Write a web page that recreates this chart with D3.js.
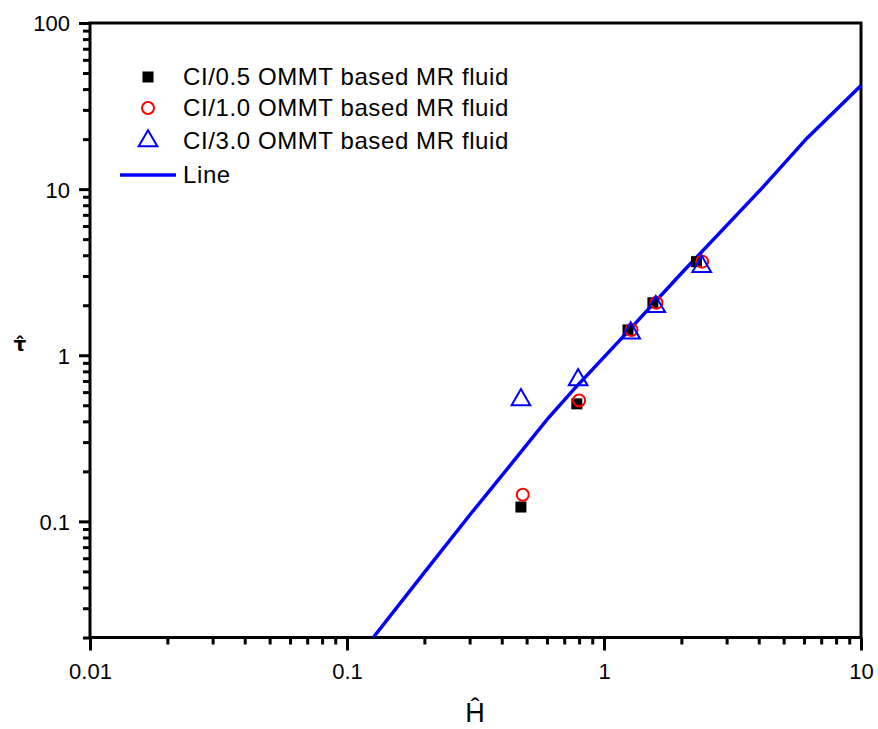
<!DOCTYPE html>
<html>
<head>
<meta charset="utf-8">
<script src="https://cdn.jsdelivr.net/npm/d3@7"></script>
<style>
  body { margin: 0; background: #fff; }
  svg { display: block; font-family: "Liberation Sans", Arial, sans-serif; }
</style>
</head>
<body>
<div id="chart"></div>
<script>
// Field values (H-hat on x, tau-hat on y)
const h05 = [0.475, 0.784, 1.24, 1.55, 2.29];
const tau05 = [0.122, 0.51, 1.42, 2.07, 3.66];

const h10 = [0.483, 0.80, 1.28, 1.60, 2.41];
const tau10 = [0.1445, 0.534, 1.42, 2.07, 3.66];

const h30 = [0.475, 0.793, 1.27, 1.59, 2.40];
const tau30 = [0.539, 0.711, 1.36, 1.96, 3.42];

// The fitted "Line", sampled along the drawn curve
const lineH = [0.1265, 0.204, 0.301, 0.443, 0.607, 0.76, 1.19, 1.976, 4.17, 6.15, 10];
const lineTau = [0.02, 0.0512, 0.1096, 0.229, 0.419, 0.619, 1.30, 3.05, 10.35, 20.2, 42];

const legendLabels = [
    "CI/0.5 OMMT based MR fluid",
    "CI/1.0 OMMT based MR fluid",
    "CI/3.0 OMMT based MR fluid",
    "Line"
];

const xMajor = [0.01, 0.1, 1, 10];
const yMajor = [0.1, 1, 10, 100];

const width = 878;
const height = 729;
const margin = {left: 90, right: 17, top: 23, bottom: 91.5};

const svg = d3.select("#chart").append("svg")
    .attr("width", width)
    .attr("height", height);

const x = d3.scaleLog()
    .domain([0.01, 10])
    .range([margin.left, width - margin.right]);

const y = d3.scaleLog()
    .domain([0.02, 100])
    .range([height - margin.bottom, margin.top]);

// minor ticks: every 2..9 inside each decade
const xMinor = [];
[0.01, 0.1, 1].forEach(d => { for (let k = 2; k <= 9; k++) xMinor.push(d * k); });
const yMinor = [];
[0.01, 0.1, 1, 10].forEach(d => { for (let k = 2; k <= 9; k++) if (d * k >= 0.02 && d * k < 100) yMinor.push(d * k); });

const fmt = d => (d >= 1 ? d3.format("d")(d) : String(d));

// bottom axis
const gx = svg.append("g").attr("transform", `translate(0,${y.range()[0]})`);
gx.call(d3.axisBottom(x).tickValues(xMinor).tickSize(7).tickFormat(""));
gx.call(g => g.append("g").call(d3.axisBottom(x).tickValues(xMajor).tickSize(13).tickFormat(fmt)));

// left axis
const gy = svg.append("g").attr("transform", `translate(${x.range()[0]},0)`);
gy.call(d3.axisLeft(y).tickValues(yMinor).tickSize(7).tickFormat(""));
gy.call(g => g.append("g").call(d3.axisLeft(y).tickValues(yMajor).tickSize(11).tickFormat(fmt)));

svg.selectAll(".domain").remove();
svg.selectAll(".tick line").attr("stroke", "#000").attr("stroke-width", 3);
svg.selectAll(".tick text")
    .style("font-size", "22px")
    .style("font-family", "'Liberation Sans', Arial, sans-serif")
    .attr("fill", "#000");
gx.selectAll(".tick text")
    .attr("dy", 0)
    .attr("y", 41);
gy.selectAll(".tick text")
    .attr("x", -20)
    .attr("dy", "0.36em");

// frame
svg.append("rect")
    .attr("x", x.range()[0])
    .attr("y", y.range()[1])
    .attr("width", x.range()[1] - x.range()[0])
    .attr("height", y.range()[0] - y.range()[1])
    .attr("fill", "none")
    .attr("stroke", "#000")
    .attr("stroke-width", 3);

// clip for the plot area
svg.append("clipPath").attr("id", "plot")
    .append("rect")
    .attr("x", x.range()[0])
    .attr("y", y.range()[1])
    .attr("width", x.range()[1] - x.range()[0])
    .attr("height", y.range()[0] - y.range()[1]);

const lineData = lineH.map((h, i) => [h, lineTau[i]]);
svg.append("path")
    .datum(lineData)
    .attr("clip-path", "url(#plot)")
    .attr("fill", "none")
    .attr("stroke", "#0000ff")
    .attr("stroke-width", 3.5)
    .attr("d", d3.line().x(d => x(d[0])).y(d => y(d[1])));

// markers
const sq = 11;
svg.append("g").selectAll("rect")
    .data(h05.map((h, i) => [h, tau05[i]]))
    .join("rect")
    .attr("x", d => x(d[0]) - sq / 2)
    .attr("y", d => y(d[1]) - sq / 2)
    .attr("width", sq)
    .attr("height", sq)
    .attr("fill", "#000");

svg.append("g").selectAll("circle")
    .data(h10.map((h, i) => [h, tau10[i]]))
    .join("circle")
    .attr("cx", d => x(d[0]))
    .attr("cy", d => y(d[1]))
    .attr("r", 6)
    .attr("fill", "none")
    .attr("stroke", "#ff0000")
    .attr("stroke-width", 2);

const tri = d3.symbol().type(d3.symbolTriangle).size(150);
svg.append("g").selectAll("path")
    .data(h30.map((h, i) => [h, tau30[i]]))
    .join("path")
    .attr("transform", d => `translate(${x(d[0])},${y(d[1])})`)
    .attr("d", tri)
    .attr("fill", "none")
    .attr("stroke", "#0000ff")
    .attr("stroke-width", 2);

// legend
const legendY = [77, 108, 141, 175];
const legend = svg.append("g");
legend.append("rect")
    .attr("x", 148 - sq / 2).attr("y", legendY[0] - sq / 2)
    .attr("width", sq).attr("height", sq).attr("fill", "#000");
legend.append("circle")
    .attr("cx", 148).attr("cy", legendY[1]).attr("r", 6)
    .attr("fill", "none").attr("stroke", "#ff0000").attr("stroke-width", 2);
legend.append("path")
    .attr("transform", `translate(148,${legendY[2]})`)
    .attr("d", tri)
    .attr("fill", "none").attr("stroke", "#0000ff").attr("stroke-width", 2);
legend.append("line")
    .attr("x1", 120).attr("x2", 176)
    .attr("y1", legendY[3]).attr("y2", legendY[3])
    .attr("stroke", "#0000ff").attr("stroke-width", 3.5);
legend.selectAll("text")
    .data(legendLabels)
    .join("text")
    .attr("x", 183)
    .attr("y", (d, i) => legendY[i] + 8)
    .attr("font-size", 24)
    .attr("letter-spacing", 0.6)
    .attr("fill", "#000")
    .text(d => d);

// axis titles: hatted H and tau
svg.append("text")
    .attr("x", 475).attr("y", 722)
    .attr("text-anchor", "middle")
    .attr("font-size", 27)
    .text("Ĥ");

svg.append("text")
    .attr("x", 20).attr("y", 351)
    .attr("text-anchor", "middle")
    .attr("font-family", "'DejaVu Sans', sans-serif")
    .attr("font-size", 20)
    .attr("font-weight", "bold")
    .text("τ\u0302");
</script>
</body>
</html>
